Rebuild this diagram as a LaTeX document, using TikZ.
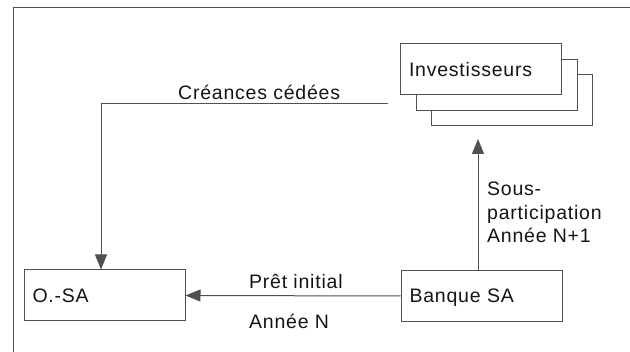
\documentclass[tikz,border=0pt]{standalone}
\usepackage{fontspec}
\setmainfont{Liberation Sans}[LetterSpace=4]
\usetikzlibrary{arrows.meta}
\definecolor{linegray}{HTML}{505050}
\definecolor{inkdark}{HTML}{141414}
\begin{document}
\begin{tikzpicture}[x=1pt,y=-1pt,
  every node/.style={text=inkdark, font=\fontsize{19.5pt}{24pt}\selectfont},
  box/.style={draw=linegray, line width=1pt, fill=white, rectangle,
    minimum width=161pt, minimum height=51pt, text width=144pt,
    inner xsep=8.5pt, inner ysep=0pt, align=left,
    text height=13.9pt, text depth=0pt},
  link/.style={draw=linegray, line width=1pt},
  tip/.style={-{Triangle[length=15pt,width=12pt]}},
  lbl/.style={inner sep=0pt, anchor=base west}]
  \useasboundingbox (0,0) rectangle (630,352);
  % open frame: top and left edges
  \draw[link] (13,7.5) -- (630,7.5);
  \draw[link] (13,7.5) -- (13,352);

  % stacked investor boxes (back to front)
  \node[box] (inv3) at (511.5,100) {};
  \node[box] (inv2) at (496.5,85) {};
  \node[box] (inv) at (481,69.5) {Investisseurs};

  \node[box] (osa) at (104.5,295.5) {O.-SA};
  \node[box] (bq) at (481.5,296) {Banque SA};

  % assigned receivables
  \coordinate (cc) at (388,104);
  \draw[link, tip] (cc) -| (osa.north -| 101,0);
  \node[lbl] (tcc) at (178,100) {Créances cédées};

  % initial loan
  \draw[link, tip] (bq.west) -- (osa.east);
  \node[lbl] (tp) at (249,289) {Prêt initial};
  \node[lbl] (ta) at (249,329) {Année N};

  % sub-participation
  \coordinate (sp) at (478,139);
  \draw[link, tip] (sp |- bq.north) -- (sp);
  \node[lbl, align=left, font=\fontsize{19.5pt}{23.5pt}\selectfont,
        anchor=north west] (ts) at (487,182) {Sous-\\participation\\Année N+1};
\end{tikzpicture}
\end{document}
